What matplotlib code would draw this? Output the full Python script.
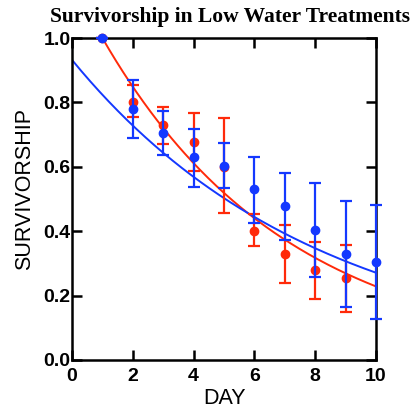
import numpy as np
import matplotlib
matplotlib.use("Agg")
import matplotlib.pyplot as plt

# data
days_red = [1, 2, 3, 4, 5, 6, 7, 8, 9]
surv_red = [1.0, 0.80, 0.73, 0.678, 0.60, 0.40, 0.329, 0.28, 0.254]
lo_red = [1.0, 0.756, 0.672, 0.588, 0.457, 0.355, 0.239, 0.189, 0.15]
hi_red = [1.0, 0.853, 0.785, 0.768, 0.751, 0.452, 0.419, 0.368, 0.358]

days_blue = [1, 2, 3, 4, 5, 6, 7, 8, 9, 10]
surv_blue = [1.0, 0.779, 0.704, 0.629, 0.603, 0.53, 0.478, 0.404, 0.329, 0.303]
lo_blue = [1.0, 0.69, 0.637, 0.538, 0.535, 0.427, 0.373, 0.257, 0.164, 0.127]
hi_blue = [1.0, 0.87, 0.773, 0.718, 0.673, 0.631, 0.58, 0.551, 0.494, 0.481]

# exponential fits y = a*exp(-b*x)
fit_red = (1.178, 0.164)
fit_blue = (0.932, 0.1235)

RED = "#ff2a0a"
BLUE = "#1438ff"

fig = plt.figure(figsize=(4.12, 4.11), dpi=100)
ax = fig.add_axes([0.1748, 0.1241, 0.7378, 0.7834])

xr = np.linspace(1, 10, 200)
ax.plot(xr, fit_red[0] * np.exp(-fit_red[1] * xr), color=RED, lw=1.4, zorder=2)
xb = np.linspace(0, 10, 200)
ax.plot(xb, fit_blue[0] * np.exp(-fit_blue[1] * xb), color=BLUE, lw=1.4, zorder=2)

sr = np.array(surv_red)
ax.errorbar(days_red, sr, yerr=[sr - np.array(lo_red), np.array(hi_red) - sr],
            fmt="o", color=RED, ms=6, elinewidth=1.6, capsize=4, capthick=1.6,
            clip_on=False, zorder=3)
sb = np.array(surv_blue)
ax.errorbar(days_blue, sb, yerr=[sb - np.array(lo_blue), np.array(hi_blue) - sb],
            fmt="o", color=BLUE, ms=6, elinewidth=1.6, capsize=4, capthick=1.6,
            clip_on=False, zorder=4)

ax.set_xlim(0, 10)
ax.set_ylim(0, 1.0)
ax.set_xticks([0, 2, 4, 6, 8, 10])
ax.set_yticks([0, 0.2, 0.4, 0.6, 0.8, 1.0])
ax.set_yticklabels(["0.0", "0.2", "0.4", "0.6", "0.8", "1.0"])
for s in ax.spines.values():
    s.set_linewidth(1.8)
ax.tick_params(direction="in", length=7, width=1.8, top=True, right=True,
               labelsize=14)
ax.tick_params(axis="y", pad=1)
ax.tick_params(axis="x", pad=6)
for lab in ax.get_xticklabels() + ax.get_yticklabels():
    lab.set_fontweight("bold")
    lab.set_family("Liberation Sans")

fig.text(0.558, 0.958, "Survivorship in Low Water Treatments", family="Liberation Serif",
         fontweight="bold", fontsize=15.5, ha="center", va="center")
ax.set_xlabel("DAY", family="Liberation Sans", fontsize=15.5, labelpad=2)
ax.set_ylabel("SURVIVORSHIP", family="Liberation Sans", fontsize=15.5)
ax.yaxis.set_label_coords(-0.12, 0.53)

fig.savefig("out.png", dpi=100)
